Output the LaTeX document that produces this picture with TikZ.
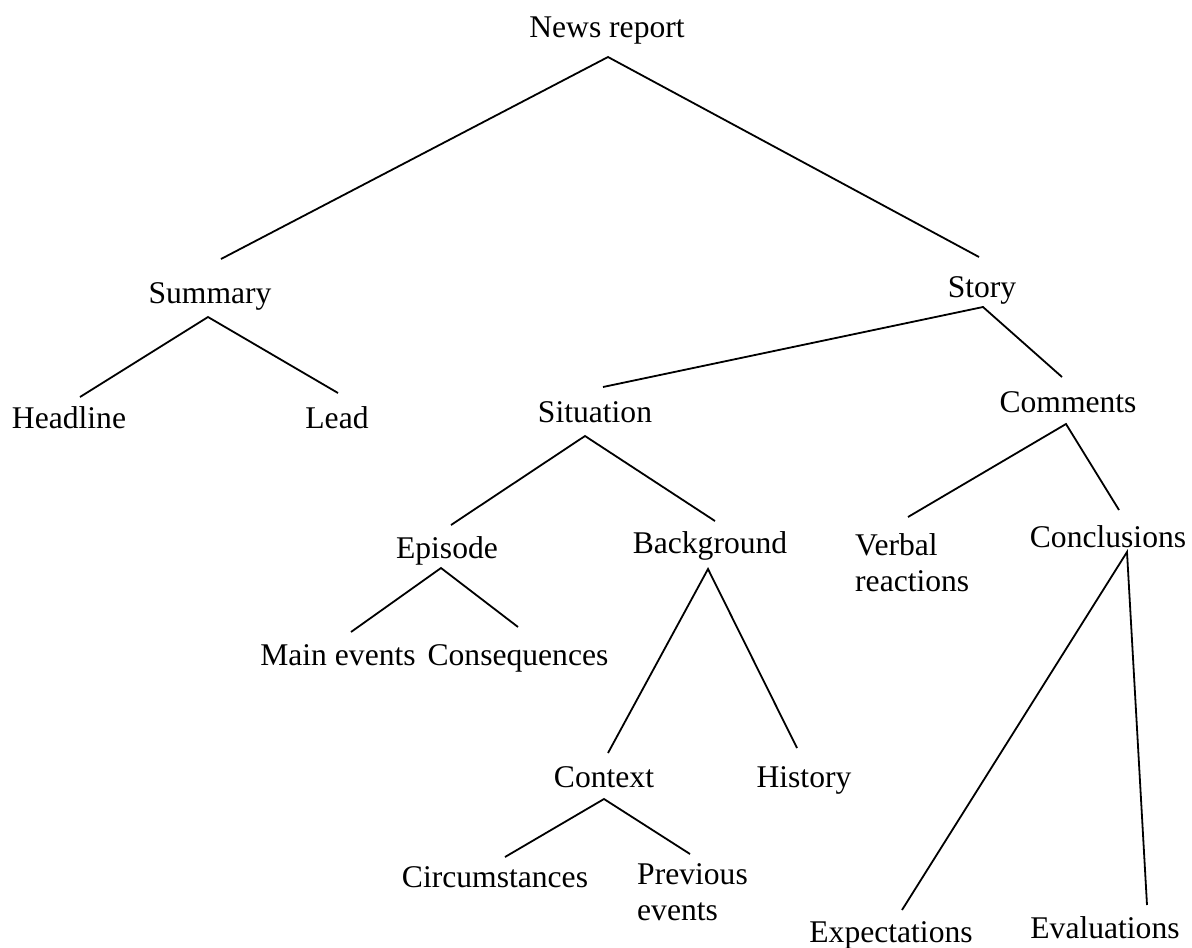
\documentclass[tikz,border=0pt]{standalone}
\usepackage{fontspec}
\setmainfont{Liberation Serif}
\begin{document}
\begin{tikzpicture}[x=1pt,y=-1pt,
  lbl/.style={inner sep=0pt,anchor=base,font=\fontsize{31.6}{36}\selectfont},
  lblml/.style={inner sep=0pt,anchor=base west,align=left,font=\fontsize{31.6}{36}\selectfont},
  edge/.style={line width=1.8pt,line cap=butt}]
\useasboundingbox[fill=white] (0,0) rectangle (1192,948);
% labels
\node[lbl] (news) at (607,37) {News report};
\node[lbl] (summary) at (210,303) {Summary};
\node[lbl] (story) at (982,297) {Story};
\node[lbl] (headline) at (69,428) {Headline};
\node[lbl] (lead) at (337,428) {Lead};
\node[lbl] (situation) at (595,422) {Situation};
\node[lbl] (comments) at (1068,412) {Comments};
\node[lbl] (episode) at (447,558) {Episode};
\node[lbl] (background) at (710,553) {Background};
\node[lblml] (verbal) at (855,591) {Verbal\\reactions};
\node[lbl] (conclusions) at (1108,547) {Conclusions};
\node[lbl] (mainev) at (338,665) {Main events};
\node[lbl] (conseq) at (518,665) {Consequences};
\node[lbl] (context) at (604,787) {Context};
\node[lbl] (history) at (804,787) {History};
\node[lbl] (circ) at (495,887) {Circumstances};
\node[lblml] (prev) at (637,920) {Previous\\events};
\node[lbl] (expect) at (891,942) {Expectations};
\node[lbl] (eval) at (1105,938) {Evaluations};
% connector end points
\coordinate (news-a) at (608,57);
\coordinate (summary-t) at (221,259);
\coordinate (story-t) at (979,257);
\coordinate (summary-a) at (208,317);
\coordinate (headline-t) at (80,397);
\coordinate (lead-t) at (338,393);
\coordinate (story-a) at (983,307);
\coordinate (situation-t) at (603,387);
\coordinate (comments-t) at (1062,377);
\coordinate (situation-a) at (585,436);
\coordinate (episode-t) at (451,525);
\coordinate (background-t) at (715,521);
\coordinate (comments-a) at (1066,424);
\coordinate (verbal-t) at (908,517);
\coordinate (conclusions-t) at (1119,510);
\coordinate (episode-a) at (441,568);
\coordinate (mainev-t) at (351,632);
\coordinate (conseq-t) at (518,627);
\coordinate (background-a) at (708,569);
\coordinate (context-t) at (608,753);
\coordinate (history-t) at (797,748);
\coordinate (conclusions-a) at (1127,552);
\coordinate (expect-t) at (902,910);
\coordinate (eval-t) at (1147,905);
\coordinate (context-a) at (604,799);
\coordinate (circ-t) at (505,857);
\coordinate (prev-t) at (690,854);
% connectors
\draw[edge] (summary-t) -- (news-a) -- (story-t);
\draw[edge] (headline-t) -- (summary-a) -- (lead-t);
\draw[edge] (situation-t) -- (story-a) -- (comments-t);
\draw[edge] (episode-t) -- (situation-a) -- (background-t);
\draw[edge] (verbal-t) -- (comments-a) -- (conclusions-t);
\draw[edge] (mainev-t) -- (episode-a) -- (conseq-t);
\draw[edge] (context-t) -- (background-a) -- (history-t);
\draw[edge] (expect-t) -- (conclusions-a) -- (eval-t);
\draw[edge] (circ-t) -- (context-a) -- (prev-t);
\end{tikzpicture}
\end{document}
